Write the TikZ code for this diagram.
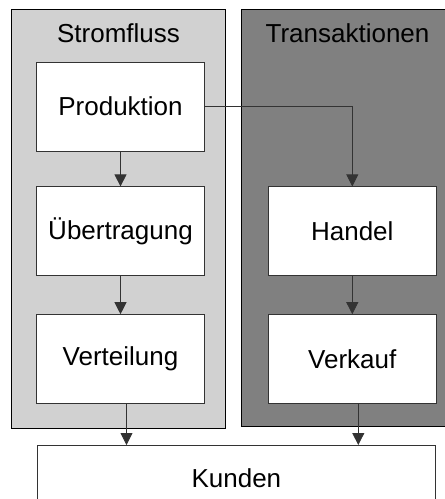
\documentclass[tikz,border=0pt]{standalone}
\usepackage{fontspec}
\setmainfont{Liberation Sans}
\usetikzlibrary{positioning, arrows.meta, calc}
\pgfdeclarelayer{background}
\pgfsetlayers{background,main}
\definecolor{panellight}{gray}{0.82}
\definecolor{paneldark}{gray}{0.5}
\definecolor{boxline}{gray}{0.2}
\tikzset{
    textfont/.style={font=\fontsize{26}{30}\selectfont},
    stage/.style={draw=boxline, fill=white, line width=0.8pt, textfont,
      minimum width=168pt, minimum height=89pt, inner sep=0pt},
    paneltitle/.style={textfont, inner sep=0pt},
    panel/.style={draw=black, line width=0.8pt},
    flow/.style={-{Triangle[length=12pt,width=12pt]}, draw=boxline, line width=0.8pt},
}

\begin{document}
\begin{tikzpicture}[x=1pt, y=1pt]
    \clip (0,0) rectangle (445,-499);

    \node[stage] (prod) at (120.5,-106.5) {Produktion};
    \node[stage, below=35pt of prod] (uebe) {Übertragung};
    \node[stage, below=38pt of uebe] (vert) {Verteilung};

    \node[stage, right=63pt of uebe] (handel) {Handel};
    \node[stage, right=63pt of vert] (verkauf) {Verkauf};

    \node[stage, anchor=north, minimum width=398pt, minimum height=66pt]
      (kunden) at ($(vert.south)!0.5!(verkauf.south)+(0,-41)$) {Kunden};

    \node[paneltitle] (tstrom) at (118.5,-33) {Stromfluss};
    \node[paneltitle] (ttrans) at (347.5,-33) {Transaktionen};

    \begin{pgfonlayer}{background}
      \draw[panel, fill=panellight] ($(prod.north west)+(-25,52)$)
        rectangle ($(vert.south east)+(20,-24)$);
      \draw[panel, fill=paneldark] ($(handel.west |- prod.north)+(-27,52)$)
        rectangle ($(verkauf.south east)+(27,-22)$);
    \end{pgfonlayer}

    \draw[flow] (prod) -- (uebe);
    \draw[flow] (uebe) -- (vert);
    \draw[flow] (prod.east) -| (handel.north);
    \draw[flow] (handel) -- (verkauf);
    \draw[flow] ([xshift=6pt]vert.south) -- ([xshift=6pt]vert.south |- kunden.north);
    \draw[flow] ([xshift=6pt]verkauf.south) -- ([xshift=6pt]verkauf.south |- kunden.north);
\end{tikzpicture}
\end{document}
